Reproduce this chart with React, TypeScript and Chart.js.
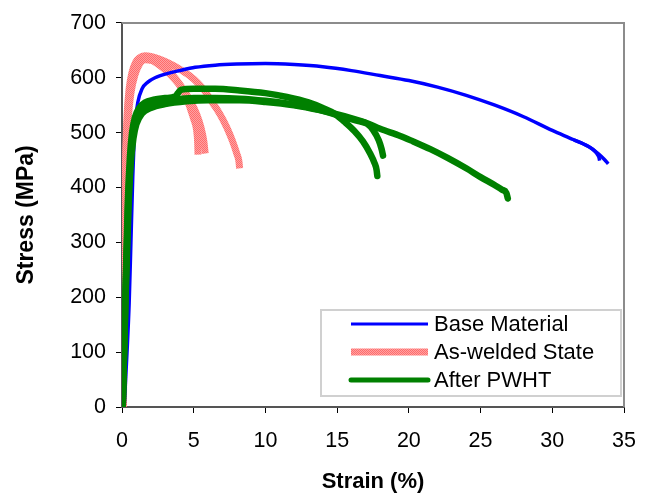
import React, { useEffect, useRef } from "react";
import { Chart, registerables } from "chart.js";
Chart.register(...registerables);

// ---- Data (strain %, stress MPa) ----
const xTicks = [0, 5, 10, 15, 20, 25, 30, 35];
const yTicks = [0, 100, 200, 300, 400, 500, 600, 700];
const seriesLabels = ["Base Material", "As-welded State", "After PWHT"];

const baseStrainA = [0.15, 0.35, 0.5, 0.62, 0.75, 0.85, 0.95, 1.1, 1.4, 1.8, 2.3, 3.2, 4, 5.1, 6.5, 8, 10, 12, 14, 16, 18, 20, 22, 24, 26, 28, 30, 31.5, 32.5, 33.2, 33.6, 33.9];
const baseStressA = [0, 100, 190, 300, 420, 490, 525, 555, 580, 592, 600, 608, 613, 619, 623, 625, 626, 624, 620, 613, 604, 595, 583, 568, 550, 529, 504, 487, 475, 462, 452, 443];
const baseStrainB = [31.5, 32.3, 32.8, 33.1, 33.25, 33.3];
const baseStressB = [487, 478, 470, 462, 455, 449];

const weldStrainA = [0.08, 0.14, 0.2, 0.28, 0.4, 0.55, 0.8, 1.1, 1.5, 1.9, 2.4, 2.9, 3.4, 3.9, 4.4, 4.75, 5.0, 5.2, 5.28, 5.3];
const weldStressA = [0, 180, 340, 460, 530, 575, 608, 626, 634, 633, 627, 617, 605, 590, 570, 545, 525, 505, 480, 460];
const weldStrainB = [0.1, 0.16, 0.23, 0.32, 0.45, 0.62, 0.9, 1.2, 1.6, 2.2, 2.8, 3.3, 3.8, 4.3, 4.8, 5.2, 5.5, 5.7, 5.8];
const weldStressB = [0, 180, 340, 460, 530, 572, 605, 624, 633, 632, 624, 612, 596, 578, 556, 534, 510, 485, 462];
const weldStrainC = [0.05, 0.1, 0.17, 0.25, 0.35, 0.5, 0.7, 0.95, 1.2, 1.6, 2.0, 2.6, 3.3, 4.0, 4.7, 5.3, 5.8, 6.3, 6.8, 7.3, 7.7, 8.0, 8.15, 8.2];
const weldStressC = [0, 150, 320, 450, 530, 580, 610, 628, 636, 640, 639, 634, 626, 616, 604, 590, 575, 555, 535, 510, 485, 462, 448, 435];

const pwhtStrainA = [0.05, 0.25, 0.4, 0.55, 0.7, 0.9, 1.2, 1.6, 2.2, 3.0, 3.7, 3.9, 4.1, 5, 6.5, 8.2, 10, 11.5, 13, 14, 14.8, 15.5, 16.2, 16.8, 17.3, 17.6, 17.75, 17.8];
const pwhtStressA = [0, 220, 370, 455, 500, 528, 545, 555, 560, 563, 566, 572, 578, 580, 580, 577, 572, 565, 555, 545, 535, 520, 503, 484, 462, 445, 432, 421];
const pwhtStrainB = [0.05, 0.25, 0.42, 0.58, 0.75, 0.95, 1.3, 1.8, 2.5, 3.5, 5, 6.5, 8.2, 10, 11.5, 13, 14.5, 15.5, 16.5, 17.1, 17.5, 17.9, 18.1, 18.2];
const pwhtStressB = [0, 210, 360, 445, 495, 522, 540, 550, 556, 560, 563, 563, 562, 558, 553, 546, 536, 528, 521, 516, 505, 486, 470, 458];
const pwhtStrainC = [0.05, 0.25, 0.45, 0.6, 0.8, 1.0, 1.4, 2, 3, 4.5, 6, 8.2, 10, 12, 13.8, 15.5, 17, 18, 19.4, 20.3, 21.5, 22.7, 24, 25, 26, 26.5, 26.8, 26.9];
const pwhtStressC = [0, 200, 360, 440, 490, 515, 535, 545, 552, 557, 559, 559, 556, 550, 541, 530, 518, 507, 494, 484, 470, 454, 435, 419, 404, 396, 390, 380];

const zip = (xs: number[], ys: number[]) => xs.map((x, i) => ({ x, y: ys[i] }));

const FONT = "Arial, 'Liberation Sans', sans-serif";

export default function App() {
  const ref = useRef<HTMLCanvasElement | null>(null);
  useEffect(() => {
    const canvas = ref.current!;
    const ctx = canvas.getContext("2d")!;
    const pc = document.createElement("canvas");
    pc.width = 2;
    pc.height = 2;
    const g = pc.getContext("2d")!;
    g.fillStyle = "#ffa2a2";
    g.fillRect(0, 0, 2, 2);
    g.fillStyle = "#ff6c6c";
    g.fillRect(0, 0, 1, 1);
    g.fillRect(1, 1, 1, 1);
    const pink = ctx.createPattern(pc, "repeat")!;

    const blue = "#0000ff";
    const green = "#008000";
    const common = { showLine: true, pointRadius: 0, pointHoverRadius: 0, cubicInterpolationMode: "monotone" as const, borderJoinStyle: "round" as const };
    const GW = 6.5;

    const datasets: any[] = [
      { ...common, label: seriesLabels[0], data: zip(baseStrainA, baseStressA), borderColor: blue, borderWidth: 3.5, order: 1, legendWidth: 3, borderCapStyle: "butt" },
      { ...common, label: seriesLabels[1], data: zip(weldStrainA, weldStressA), borderColor: pink, borderWidth: 7, order: 2, legendWidth: 7, borderCapStyle: "butt" },
      { ...common, label: seriesLabels[2], data: zip(pwhtStrainA, pwhtStressA), borderColor: green, borderWidth: GW, order: 0, legendWidth: 5, borderCapStyle: "round" },
      { ...common, label: "", data: zip(baseStrainB, baseStressB), borderColor: blue, borderWidth: 3.5, order: 1 },
      { ...common, label: "", data: zip(weldStrainB, weldStressB), borderColor: pink, borderWidth: 7, order: 2 },
      { ...common, label: "", data: zip(weldStrainC, weldStressC), borderColor: pink, borderWidth: 7, order: 2 },
      { ...common, label: "", data: zip(pwhtStrainB, pwhtStressB), borderColor: green, borderWidth: GW, order: 0, borderCapStyle: "round" },
      { ...common, label: "", data: zip(pwhtStrainC, pwhtStressC), borderColor: green, borderWidth: GW, order: 0, borderCapStyle: "round" },
    ];

    const framePlugin = {
      id: "frame",
      afterDraw(chart: any) {
        const { left, right, top, bottom } = chart.chartArea;
        const c = chart.ctx;
        c.save();
        c.strokeStyle = "#8c8c8c";
        c.lineWidth = 2;
        c.beginPath();
        c.moveTo(left, top);
        c.lineTo(right, top);
        c.lineTo(right, bottom);
        c.stroke();
        // legend box
        c.fillStyle = "#ffffff";
        c.fillRect(320, 309, 302, 88);
        c.strokeStyle = "#d0d0d0";
        c.lineWidth = 2;
        c.strokeRect(321, 310, 300, 86);
        const items = chart.data.datasets.filter((d: any) => d.label);
        items.forEach((d: any, i: number) => {
          const y = 324 + i * 28;
          c.beginPath();
          c.moveTo(351, y);
          c.lineTo(428, y);
          c.strokeStyle = d.borderColor;
          c.lineWidth = d.legendWidth;
          c.lineCap = d.borderCapStyle || "butt";
          c.stroke();
          c.fillStyle = "#000";
          c.font = `22px ${FONT}`;
          c.textBaseline = "middle";
          c.textAlign = "left";
          c.fillText(d.label, 434, y + 1);
        });
        c.restore();
      },
    };

    const chart = new Chart(ctx, {
      type: "scatter",
      data: { datasets },
      options: {
        animation: false,
        responsive: false,
        devicePixelRatio: 1,
        layout: { padding: { left: 0, top: 18, right: 27, bottom: 0 } },
        plugins: { legend: { display: false }, tooltip: { enabled: false } },
        scales: {
          x: {
            type: "linear",
            min: 0,
            max: 35,
            afterBuildTicks: (s: any) => { s.ticks = xTicks.map((v) => ({ value: v })); },
            afterFit: (s: any) => { s.height = 87; },
            ticks: { color: "#000", font: { family: FONT, size: 21.5 }, padding: 15 },
            grid: { drawOnChartArea: false, drawTicks: true, tickLength: 6, tickColor: "#000", lineWidth: 1 },
            border: { display: true, color: "#555", width: 2 },
            title: { display: true, text: "Strain (%)", color: "#000", font: { family: FONT, size: 22, weight: "bold", lineHeight: 1 }, padding: { top: 0, bottom: 1 } },
          },
          y: {
            type: "linear",
            min: 0,
            max: 700,
            afterBuildTicks: (s: any) => { s.ticks = yTicks.map((v) => ({ value: v })); },
            afterFit: (s: any) => { s.width = 122; },
            ticks: { color: "#000", font: { family: FONT, size: 21.5 }, padding: 10 },
            grid: { drawOnChartArea: false, drawTicks: true, tickLength: 6, tickColor: "#000", lineWidth: 1 },
            border: { display: true, color: "#555", width: 2 },
            title: { display: true, text: "Stress (MPa)", color: "#000", font: { family: FONT, size: 23, weight: "bold", lineHeight: 1 }, padding: { top: 15, bottom: 0 } },
          },
        },
      },
      plugins: [framePlugin],
    } as any);
    return () => chart.destroy();
  }, []);

  return (
    <div style={{ position: "fixed", left: 0, top: 0, width: 651, height: 494, background: "#fff" }}>
      <canvas ref={ref} width={651} height={494} style={{ display: "block", width: 651, height: 494 }} />
    </div>
  );
}
